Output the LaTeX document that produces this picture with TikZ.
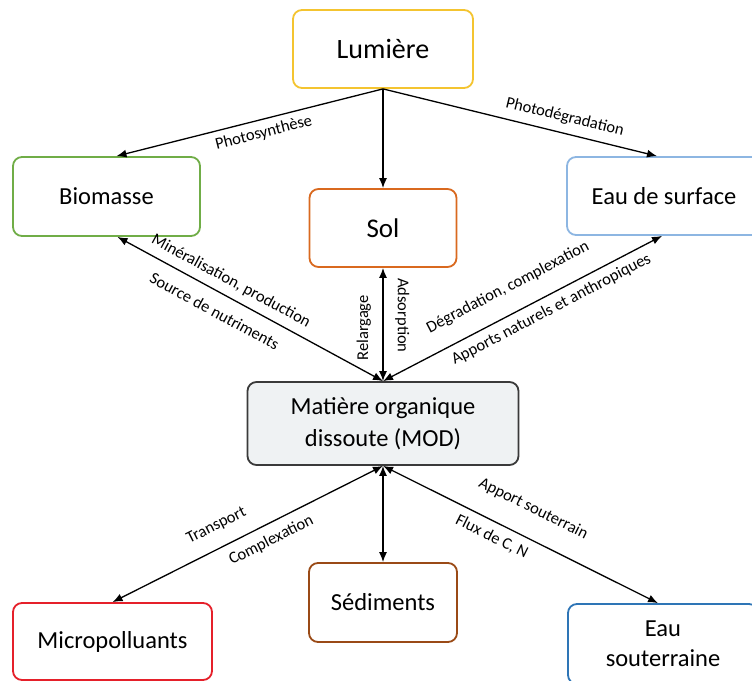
\documentclass[tikz,border=0pt]{standalone}
\usepackage{fontspec}
\setmainfont{Carlito}
\usetikzlibrary{arrows.meta,positioning}
\definecolor{lumyellow}{HTML}{F4C430}
\definecolor{biogreen}{HTML}{70AD47}
\definecolor{solorange}{HTML}{D9691F}
\definecolor{surfblue}{HTML}{8DB6E2}
\definecolor{micred}{HTML}{E5202A}
\definecolor{sedbrown}{HTML}{9A4A16}
\definecolor{soublue}{HTML}{2E75B6}
\definecolor{modgray}{HTML}{3A3A3A}
\definecolor{modfill}{HTML}{EFF2F3}

\begin{document}
\begin{tikzpicture}[x=1pt,y=-1pt,>={Latex[length=10pt,width=8pt]},
  box/.style={draw,rounded corners=9pt,line width=1.8pt,fill=white,align=center,
    inner sep=0pt,font=\fontsize{24.5}{30}\selectfont},
  flow/.style={line width=1.3pt},
  lbl/.style={sloped,inner sep=2pt,font=\fontsize{16.5}{19}\selectfont}]
  \useasboundingbox (0,0) rectangle (752,680);
  \clip (0,0) rectangle (752,680);

  \node[box,draw=lumyellow,minimum width=180pt,minimum height=78pt,font=\fontsize{28}{32}\selectfont] (lum) at (383,49) {Lumière};
  \node[box,draw=biogreen,minimum width=187pt,minimum height=79pt] (bio) at (106.5,196.5) {Biomasse};
  \node[box,draw=solorange,minimum width=147pt,minimum height=78pt,font=\fontsize{27}{32}\selectfont] (sol) at (383,228) {Sol};
  \node[box,draw=surfblue,minimum width=194pt,minimum height=78pt] (sur) at (664,196) {Eau de surface};
  \node[box,draw=modgray,fill=modfill,minimum width=271pt,minimum height=83pt,font=\fontsize{24.5}{32}\selectfont] (mod) at (383,423.5) {Matière organique\\dissoute (MOD)};
  \node[box,draw=micred,minimum width=199pt,minimum height=77pt] (mic) at (112.5,641.5) {Micropolluants};
  \node[box,draw=sedbrown,minimum width=148pt,minimum height=79pt] (sed) at (383,602.5) {Sédiments};
  \node[box,draw=soublue,minimum width=190pt,minimum height=80pt] (sou) at (663,644) {Eau\\souterraine};

  \draw[->,flow] (lum.south) -- ([xshift=10pt]bio.north) node[lbl,pos=.46,below=4pt] {Photosynthèse};
  \draw[->,flow] (lum.south) -- (sol.north);
  \draw[->,flow] (lum.south) -- ([xshift=-7pt]sur.north) node[lbl,pos=.65,above=6pt] {Photodégradation};

  \draw[<->,flow] (mod.north) -- ([xshift=11pt]bio.south)
    node[lbl,pos=.60,above=5.5pt] {Minéralisation, production}
    node[lbl,pos=.60,below=10.5pt] {Source de nutriments};
  \draw[<->,flow] (mod.north) -- (sol.south) node[lbl,pos=.47,above=9.5pt] {Relargage};
  \path (sol.south) -- (mod.north) node[lbl,pos=.42,above=10pt] {Adsorption};
  \draw[<->,flow] (mod.north) -- ([xshift=-2pt]sur.south)
    node[lbl,pos=.49,above=15.5pt] {Dégradation, complexation}
    node[lbl,pos=.58,below=4.5pt] {Apports naturels et anthropiques};

  \draw[<->,flow] (mod.south) -- (mic.north)
    node[lbl,pos=.58,above=12pt] {Transport}
    node[lbl,pos=.44,below=6.5pt] {Complexation};
  \draw[<->,flow] (mod.south) -- (sed.north);
  \draw[<->,flow] (mod.south) -- ([xshift=-5pt]sou.north)
    node[lbl,pos=.50,above=19pt] {Apport souterrain}
    node[lbl,pos=.42,below=5.5pt] {Flux de C, N};
\end{tikzpicture}
\end{document}
